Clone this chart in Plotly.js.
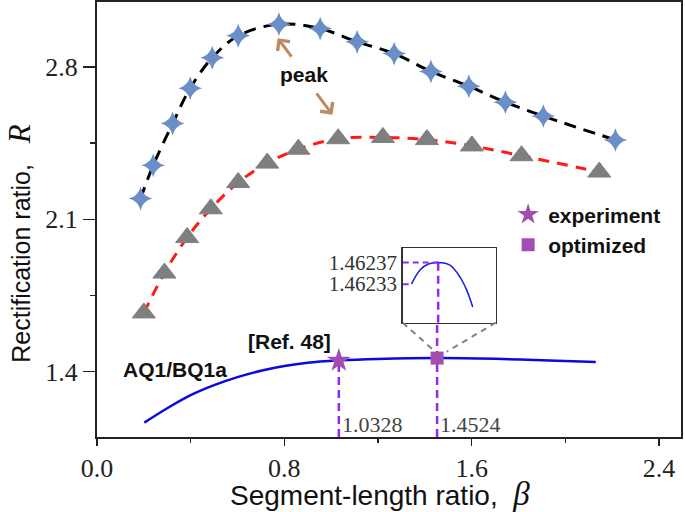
<!DOCTYPE html>
<html><head><meta charset="utf-8">
<script src="https://cdn.plot.ly/plotly-3.0.1.min.js"></script>
<style>html,body{margin:0;padding:0;background:#fff}</style>
</head><body><div id="chart" style="width:685px;height:512px"></div>
<script>
// ---- data ----
const starX = [0.186, 0.240, 0.323, 0.398, 0.492, 0.603, 0.777, 0.953, 1.111, 1.269, 1.426, 1.588, 1.744, 1.906, 2.214];
const starY = [2.195, 2.348, 2.540, 2.702, 2.842, 2.943, 2.996, 2.976, 2.915, 2.861, 2.779, 2.711, 2.638, 2.574, 2.464];
const triX = [0.200, 0.288, 0.385, 0.486, 0.603, 0.727, 0.860, 1.030, 1.221, 1.409, 1.601, 1.813, 2.145];
const triY = [1.670, 1.853, 2.016, 2.148, 2.269, 2.358, 2.422, 2.470, 2.476, 2.466, 2.437, 2.392, 2.317];
const refX = [0.202, 0.30, 0.40, 0.50, 0.60, 0.70, 0.80, 0.90, 1.0328, 1.20, 1.4524, 1.70, 1.90, 2.130];
const refY = [1.166, 1.232, 1.292, 1.338, 1.375, 1.404, 1.426, 1.441, 1.451, 1.458, 1.4624, 1.459, 1.453, 1.444];
const expX = [1.0328], expY = [1.451];
const optX = [1.4524], optY = [1.4624];
const insetX = [1.428, 1.4358, 1.4434, 1.4524, 1.4632, 1.4724, 1.4785, 1.484];
const insetY = [1.46233, 1.462356, 1.462367, 1.46237, 1.462365, 1.462343, 1.462319, 1.462288];
const insetTicks = [1.46233, 1.46237];
const insetTickText = ['1.46233', '1.46237'];
const xTicks = [0, 0.8, 1.6, 2.4], xMinor = [0.4, 1.2, 2.0];
const yTicks = [1.4, 2.1, 2.8], yMinor = [1.75, 2.45];

// ---- layout constants ----
const xRange = [0, 2.494], yRange = [1.100, 3.098];
const insetXRange = [1.42, 1.505], insetYRange = [1.462259, 1.462396];
const insetXDomain = [0.5235, 0.6827], insetYDomain = [0.2628, 0.4338];
const purple = '#a34db3', violet = '#8f2cf0';
const serif = 'Liberation Serif, Times New Roman, serif';
const sans = 'Liberation Sans, Arial, sans-serif';
const nb = '\u00A0';

const traces = [
  {x: starX, y: starY, mode: 'lines+markers', showlegend: false,
   line: {color: '#000', width: 3, dash: '12px,8px', shape: 'spline'},
   marker: {symbol: 'star-diamond', size: 17, color: '#6a8ec8'}},
  {x: triX, y: triY, mode: 'lines+markers', showlegend: false,
   line: {color: '#ff1a1a', width: 3, dash: '11px,8px', shape: 'spline'},
   marker: {symbol: 'triangle-up', size: 20, color: '#7f7f7f', line: {color: '#7f7f7f', width: 1}}},
  {x: refX, y: refY, mode: 'lines', showlegend: false,
   line: {color: '#0a0ae0', width: 2.5, shape: 'spline'}},
  {x: expX, y: expY, mode: 'markers', name: '<b>experiment</b>',
   marker: {symbol: 'star', size: 18, color: purple}},
  {x: optX, y: optY, mode: 'markers', name: '<b>optimized</b>',
   marker: {symbol: 'square', size: 13, color: purple}},
  {x: insetX, y: insetY, xaxis: 'x2', yaxis: 'y2', mode: 'lines', showlegend: false,
   line: {color: '#1a1ae0', width: 1.5, shape: 'spline'}}
];

const dashV = {color: violet, width: 2.5, dash: '8px,5px'};
const insetPeak = Math.max(...insetY);
const shapes = [
  {type: 'line', xref: 'x', yref: 'y', x0: expX[0], x1: expX[0], y0: yRange[0], y1: expY[0], line: dashV, layer: 'below'},
  {type: 'line', xref: 'x', yref: 'paper', x0: optX[0], x1: optX[0], y0: 0, y1: insetYDomain[0], line: dashV, layer: 'below'},
  {type: 'line', xref: 'x2', yref: 'y2', x0: optX[0], x1: optX[0], y0: insetYRange[0], y1: insetPeak, line: dashV, layer: 'below'},
  {type: 'line', xref: 'x2', yref: 'y2', x0: insetXRange[0], x1: optX[0], y0: insetTicks[1], y1: insetTicks[1], line: {color: violet, width: 2, dash: '6px,4px'}},
  {type: 'line', xref: 'x2', yref: 'y2', x0: insetXRange[0], x1: insetX[0], y0: insetTicks[0], y1: insetTicks[0], line: {color: violet, width: 2, dash: '6px,4px'}},
  {type: 'line', xref: 'paper', yref: 'paper', x0: insetXDomain[0], y0: insetYDomain[0], x1: 0.5759, y1: 0.200, line: {color: '#808080', width: 2, dash: '6px,5px'}},
  {type: 'line', xref: 'paper', yref: 'paper', x0: insetXDomain[1], y0: insetYDomain[0], x1: 0.5988, y1: 0.196, line: {color: '#808080', width: 2, dash: '6px,5px'}}
];

const boldFont = {family: sans, size: 21, color: '#111'};
const arrowColor = '#c08a60';
const annotations = [
  {x: 0.885, y: 2.763, xref: 'x', yref: 'y', text: '<b>peak</b>', showarrow: false, font: boldFont},
  {x: 0.7715, y: 2.932, xref: 'x', yref: 'y', text: '', showarrow: true, ax: 15, ay: 20,
   arrowhead: 4, arrowsize: 1, arrowwidth: 3, arrowcolor: arrowColor},
  {x: 1.0055, y: 2.580, xref: 'x', yref: 'y', text: '', showarrow: true, ax: -17, ay: -23,
   arrowhead: 4, arrowsize: 1, arrowwidth: 3, arrowcolor: arrowColor},
  {x: 0.823, y: 1.539, xref: 'x', yref: 'y', text: '<b>[Ref. 48]</b>', showarrow: false, font: boldFont},
  {x: 0.331, y: 1.409, xref: 'x', yref: 'y', text: '<b>AQ1/BQ1a</b>', showarrow: false, font: boldFont},
  {x: expX[0], y: yRange[0], xref: 'x', yref: 'y', text: String(expX[0]), showarrow: false,
   xanchor: 'left', yanchor: 'bottom', xshift: 1, yshift: -2, font: {family: serif, size: 22, color: '#444'}},
  {x: optX[0], y: yRange[0], xref: 'x', yref: 'y', text: String(optX[0]), showarrow: false,
   xanchor: 'left', yanchor: 'bottom', xshift: 1, yshift: -2, font: {family: serif, size: 22, color: '#444'}},
  // axis titles
  {x: 0.485, y: -0.086, xref: 'paper', yref: 'paper', xanchor: 'center', yanchor: 'top', showarrow: false,
   text: 'Segment-length ratio,' + nb + nb + '<span style="font-family:Liberation Serif;font-size:33px"><i>β</i></span>',
   font: {family: sans, size: 28, color: '#111'}},
  {x: -0.133, y: 0.445, xref: 'paper', yref: 'paper', xanchor: 'center', yanchor: 'middle', showarrow: false,
   textangle: -90,
   text: 'Rectification ratio,' + nb + nb + nb + '<span style="font-family:Liberation Serif;font-size:31px"><i>R</i></span>',
   font: {family: sans, size: 25, color: '#111'}}
];

const layout = {
  width: 685, height: 512,
  margin: {l: 97, r: 4, t: 2, b: 75},
  paper_bgcolor: '#fff', plot_bgcolor: '#fff',
  showlegend: true,
  legend: {x: 0.704, y: 0.558, xanchor: 'left', yanchor: 'top', bgcolor: 'rgba(0,0,0,0)',
           font: {family: sans, size: 21, color: '#111'}, itemsizing: 'trace'},
  xaxis: {range: xRange, tickvals: xTicks, tickformat: '.1f', ticks: 'outside', ticklen: 7, tickwidth: 1.5,
          tickcolor: '#222', showline: true, linecolor: '#222', linewidth: 2, mirror: true,
          showgrid: false, zeroline: false,
          tickfont: {family: serif, size: 26, color: '#222'},
          minor: {tickvals: xMinor, ticks: 'outside', ticklen: 4, tickwidth: 1.5, tickcolor: '#222', showgrid: false}},
  yaxis: {range: yRange, tickvals: yTicks, tickformat: '.1f', ticks: 'outside', ticklen: 12, tickwidth: 1.5,
          tickcolor: '#222', showline: true, linecolor: '#222', linewidth: 2, mirror: true,
          showgrid: false, zeroline: false,
          tickfont: {family: serif, size: 26, color: '#222'},
          minor: {tickvals: yMinor, ticks: 'outside', ticklen: 5, tickwidth: 1.5, tickcolor: '#222', showgrid: false}},
  xaxis2: {domain: insetXDomain, anchor: 'y2', range: insetXRange, showticklabels: false, ticks: '',
           showline: true, mirror: true, linecolor: '#333', linewidth: 1.5, showgrid: false, zeroline: false},
  yaxis2: {domain: insetYDomain, anchor: 'x2', range: insetYRange, tickvals: insetTicks, ticktext: insetTickText,
           ticks: '', showline: true, mirror: true, linecolor: '#333', linewidth: 1.5, showgrid: false, zeroline: false,
           tickfont: {family: serif, size: 21, color: '#333'}},
  shapes: shapes,
  annotations: annotations
};

Plotly.newPlot('chart', traces, layout, {displayModeBar: false, staticPlot: true});
</script></body></html>
